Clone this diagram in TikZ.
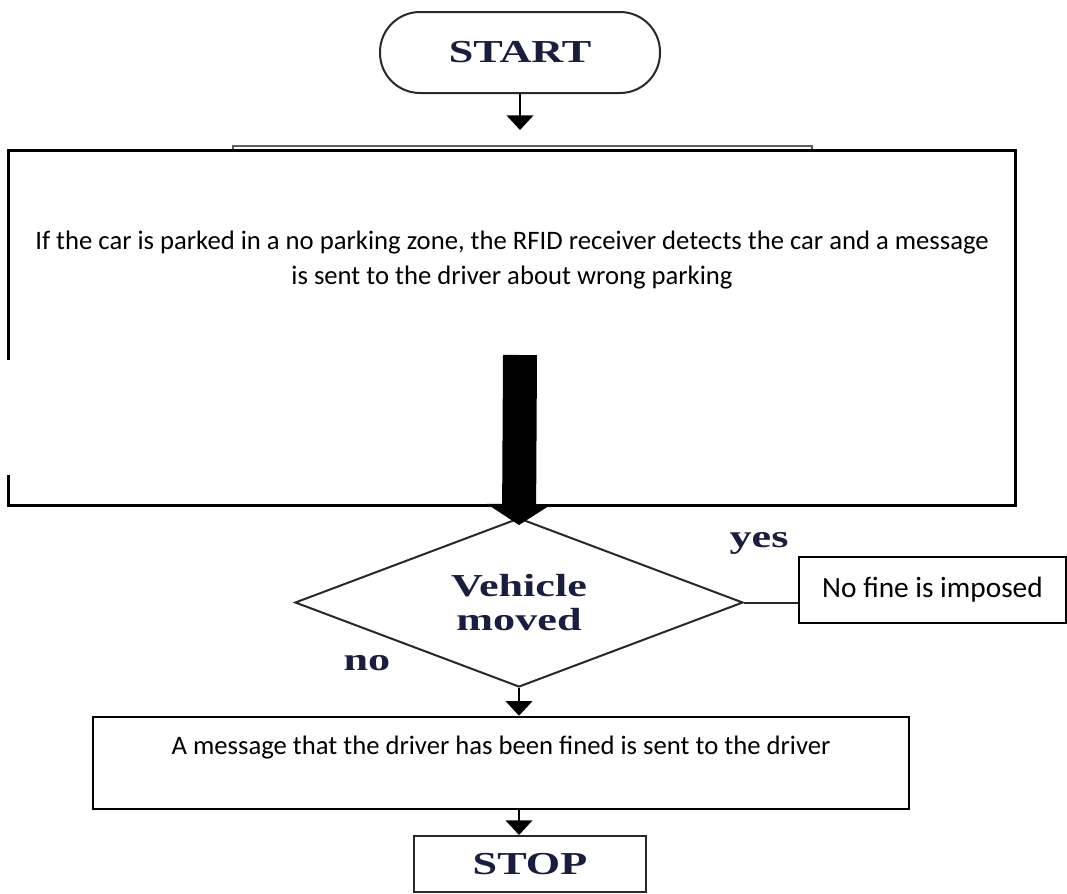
\documentclass[tikz,border=0pt]{standalone}
\usepackage{fontspec}
\setmainfont{Liberation Serif}
\newfontfamily\calib{Carlito}
\usetikzlibrary{shapes.geometric,arrows.meta,calc}
\definecolor{lbl}{RGB}{25,30,62}
\definecolor{edgec}{RGB}{40,40,40}
\definecolor{prevc}{RGB}{95,95,95}
\newcommand{\widetxt}[1]{\scalebox{1.38}[1]{#1}}
\begin{document}
\begin{tikzpicture}[x=0.75pt,y=-0.75pt,
  serif/.style={text=lbl,font=\bfseries\fontsize{24}{25.5}\selectfont},
  calibtext/.style={font=\calib\fontsize{20}{26.25}\selectfont,align=center,inner sep=0pt},
  boxed/.style={draw=black,line width=1.9pt,inner sep=0pt},
  arr/.style={draw=black,line width=1.5pt,-{Triangle[width=20pt,length=11pt]}},
  bigarrow/.style={draw=black,line width=25.5pt,-{Triangle[width=48pt,length=15.75pt]}}
]
\useasboundingbox (0,0) rectangle (1067,893);

% START terminal
\node[draw=edgec,line width=1.5pt,rounded corners=30pt,minimum width=210pt,minimum height=60.75pt,inner sep=0pt,serif] (start) at (520,52.5) {\widetxt{START}};

% partially hidden box behind
\node[draw=prevc,line width=1.3pt,minimum width=434.25pt,minimum height=40pt,inner sep=0pt,anchor=north] (prev) at (522.5,145) {};

% big process box (outline drawn with a gap on the left side)
\node[fill=white,minimum width=754.5pt,minimum height=265.5pt,inner sep=0pt] (detect) at (512,328) {};
\draw[black,line width=1.9pt]
  ($(detect.north west)+(0,209)$) -- (detect.north west) -- (detect.north east)
  -- (detect.south east) -- (detect.south west) -- ($(detect.south west)+(0,-30)$);
\node[calibtext] (detecttxt) at (512,260) {If the car is parked in a no parking zone, the RFID receiver detects the car and a message\\is sent to the driver about wrong parking};

% decision
\node[draw=edgec,line width=1.5pt,shape=diamond,aspect=2.65,minimum width=336pt,minimum height=126.75pt,inner sep=0pt,serif,align=center] (d) at (519,602.5) {\widetxt{Vehicle}\\[0pt]\widetxt{moved}};

% no fine box
\node[boxed,minimum width=200.25pt,minimum height=49.5pt,calibtext,font=\calib\fontsize{22}{26}\selectfont] (nofine) at (932.5,590) {No fine is imposed};

% fined box
\node[boxed,minimum width=612pt,minimum height=69pt] (fined) at (501,763) {};
\node[calibtext] (finedtxt) at (501,748) {A message that the driver has been fined is sent to the driver};

% STOP
\node[draw=edgec,line width=1.5pt,minimum width=174pt,minimum height=42pt,inner sep=0pt,serif] (stop) at (530,864) {\widetxt{STOP}};

% labels
\node[serif] (yes) at (759,543) {\widetxt{yes}};
\node[serif] (no) at (367,663) {\widetxt{no}};

% connectors
\coordinate (bigtail) at (520,355);
\draw[arr,shorten >=11.25pt] (start.south) -- (start.south |- prev.north);
\draw[bigarrow] (bigtail) -- ([yshift=-6pt]d.north);
\draw[edgec,line width=1.5pt] (d.east) -- (nofine.west |- d.east);
\draw[arr] (d.south) -- (d.south |- fined.north);
\draw[arr] (d.south |- fined.south) -- (d.south |- stop.north);
\end{tikzpicture}
\end{document}
